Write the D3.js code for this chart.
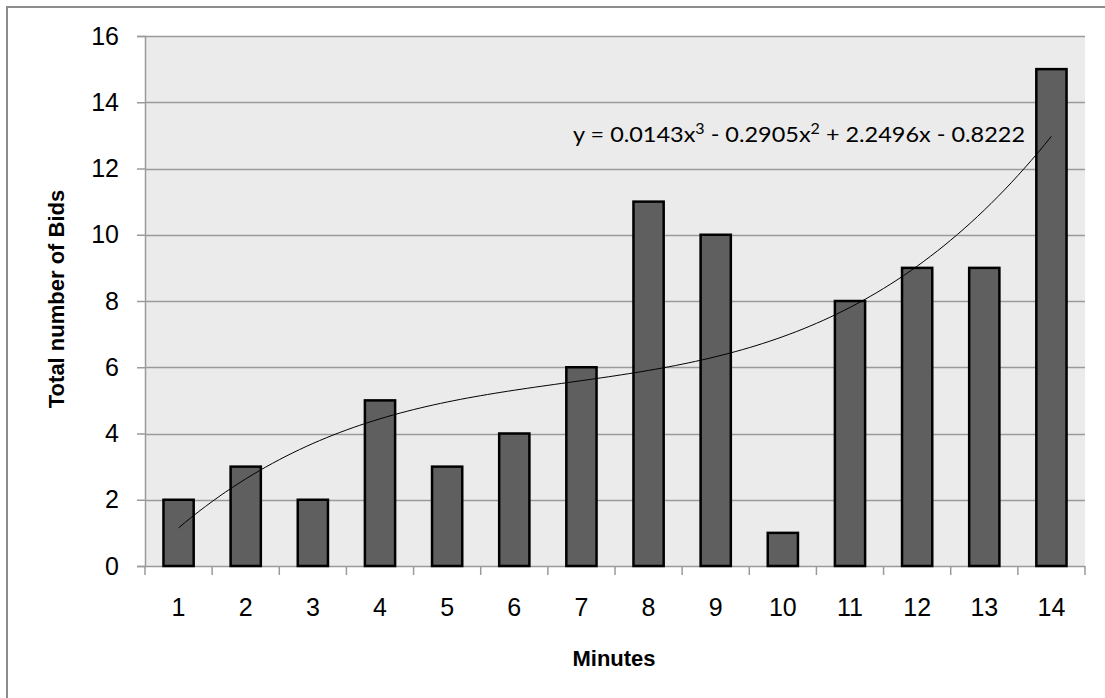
<!DOCTYPE html>
<html>
<head>
<meta charset="utf-8">
<script src="https://cdn.jsdelivr.net/npm/d3@7"></script>
<style>
  html, body { margin: 0; padding: 0; background: #fff; }
  svg { display: block; }
  text { font-family: "Liberation Sans", Arial, sans-serif; fill: #000; }
</style>
</head>
<body>
<svg id="chart" width="1105" height="698"></svg>
<script>
// Bids per minute
const minutes = [1, 2, 3, 4, 5, 6, 7, 8, 9, 10, 11, 12, 13, 14];
const bids = [2, 3, 2, 5, 3, 4, 6, 11, 10, 1, 8, 9, 9, 15];
const yTicks = [0, 2, 4, 6, 8, 10, 12, 14, 16];
// Cubic trendline coefficients (x^3, x^2, x, constant)
const trendCoef = [0.0143, -0.2905, 2.2496, -0.8222];
// Equation label pieces: [text, isSuperscript]
const trendLabel = [
  ["y = 0.0143x", false], ["3", true], [" - 0.2905x", false], ["2", true],
  [" + 2.2496x - 0.8222", false]
];

const svg = d3.select("#chart");
const plot = { left: 145, top: 36, right: 1085, bottom: 566 };

// outer chart frame
svg.append("rect")
  .attr("x", 7).attr("y", 7).attr("width", 1120).attr("height", 720)
  .attr("fill", "#fff").attr("stroke", "#8c8c8c").attr("stroke-width", 2);

const x = d3.scaleBand()
  .domain(minutes)
  .range([plot.left, plot.right])
  .paddingInner(0.55).paddingOuter(0.275);
const xEdge = d3.scaleLinear().domain([0, minutes.length]).range([plot.left, plot.right]);
const y = d3.scaleLinear().domain([0, 16]).range([plot.bottom, plot.top]);

// plot area background
svg.append("rect")
  .attr("x", plot.left).attr("y", plot.top)
  .attr("width", plot.right - plot.left).attr("height", plot.bottom - plot.top)
  .attr("fill", "#ebebeb");

// horizontal gridlines
svg.append("g").selectAll("line").data(yTicks.filter(d => d > 0)).join("line")
  .attr("x1", plot.left).attr("x2", plot.right)
  .attr("y1", d => Math.round(y(d)) + 0.5).attr("y2", d => Math.round(y(d)) + 0.5)
  .attr("stroke", "#9a9a9a").attr("stroke-width", 1.5);

// y axis
const yAxis = svg.append("g")
  .attr("transform", `translate(${plot.left},0)`)
  .call(d3.axisLeft(y).tickValues(yTicks).tickSize(8).tickPadding(18));
yAxis.select(".domain").attr("stroke", "#9a9a9a").attr("stroke-width", 1.5);
yAxis.selectAll(".tick line").attr("stroke", "#9a9a9a").attr("stroke-width", 1.5);
yAxis.selectAll(".tick text")
  .style("font-family", "'Liberation Sans', Arial, sans-serif")
  .style("font-size", "25px").attr("fill", "#000");

// x axis: baseline, boundary ticks and centred labels
const xg = svg.append("g");
xg.append("line")
  .attr("x1", plot.left).attr("x2", plot.right)
  .attr("y1", plot.bottom + 0.5).attr("y2", plot.bottom + 0.5)
  .attr("stroke", "#9a9a9a").attr("stroke-width", 1.5);
xg.selectAll("line.tk").data(d3.range(minutes.length + 1)).join("line")
  .attr("class", "tk")
  .attr("x1", d => xEdge(d)).attr("x2", d => xEdge(d))
  .attr("y1", plot.bottom).attr("y2", plot.bottom + 9)
  .attr("stroke", "#9a9a9a").attr("stroke-width", 1.5);
xg.selectAll("text").data(minutes).join("text")
  .attr("x", d => x(d) + x.bandwidth() / 2)
  .attr("y", 616)
  .attr("text-anchor", "middle")
  .style("font-size", "25px")
  .text(d => d);

// bars
svg.append("g").selectAll("rect").data(minutes.map((m, i) => ({ m, v: bids[i] }))).join("rect")
  .attr("x", d => x(d.m))
  .attr("y", d => y(d.v))
  .attr("width", x.bandwidth())
  .attr("height", d => y(0) - y(d.v))
  .attr("fill", "#5f5f5f")
  .attr("stroke", "#000")
  .attr("stroke-width", 2.5);

// polynomial trendline
const poly = t => trendCoef[0] * t ** 3 + trendCoef[1] * t ** 2 + trendCoef[2] * t + trendCoef[3];
const trendPts = d3.range(1, 14.001, 0.1).map(t => [t, poly(t)]);
const xLin = d3.scaleLinear()
  .domain([1, 14])
  .range([x(1) + x.bandwidth() / 2, x(14) + x.bandwidth() / 2]);
svg.append("path")
  .datum(trendPts)
  .attr("d", d3.line().x(d => xLin(d[0])).y(d => y(d[1])).curve(d3.curveMonotoneX))
  .attr("fill", "none")
  .attr("stroke", "#000")
  .attr("stroke-width", 1);

// trendline equation
const eq = svg.append("text")
  .attr("x", 573).attr("y", 142)
  .style("font-family", "Lato, 'Open Sans', sans-serif")
  .style("font-size", "22px")
  .attr("textLength", 452)
  .attr("lengthAdjust", "spacingAndGlyphs");
trendLabel.forEach(([t, sup]) => {
  const ts = eq.append("tspan").text(t);
  if (sup) ts.style("font-size", "15px").attr("dy", -8);
  else ts.attr("dy", t.startsWith("y") ? 0 : 8);
});

// axis titles
svg.append("text")
  .attr("transform", "translate(64,299) rotate(-90)")
  .attr("text-anchor", "middle")
  .style("font-size", "22px").style("font-weight", "bold")
  .text("Total number of Bids");

svg.append("text")
  .attr("x", 614).attr("y", 666)
  .attr("text-anchor", "middle")
  .style("font-size", "22px").style("font-weight", "bold")
  .text("Minutes");
</script>
</body>
</html>
